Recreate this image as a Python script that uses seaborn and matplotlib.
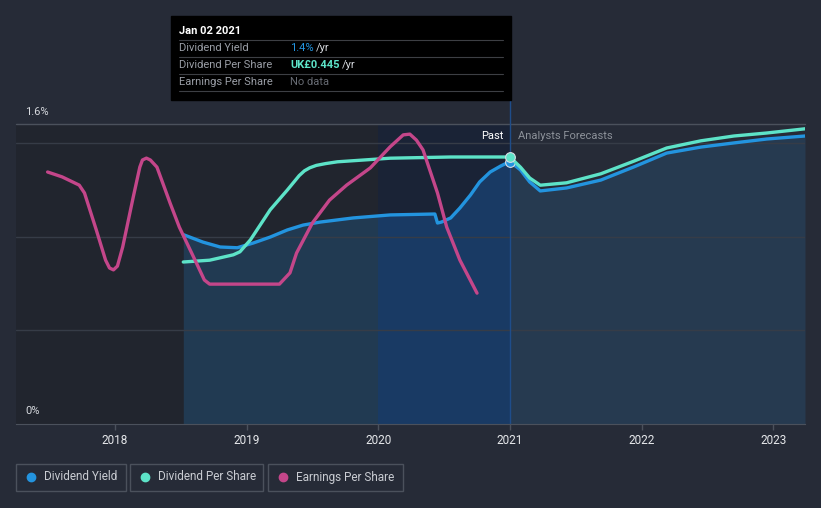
import numpy as np
import matplotlib
matplotlib.use("Agg")
import matplotlib.pyplot as plt
from matplotlib.patches import Rectangle
from matplotlib.lines import Line2D
import seaborn as sns

# ---- data ----
# dividend yield, % (past)
yield_years = [2018.52, 2018.67, 2018.80, 2018.93, 2019.05, 2019.18, 2019.31, 2019.43,
               2019.56, 2019.81, 2020.09, 2020.43, 2020.45, 2020.48, 2020.55, 2020.62,
               2020.70, 2020.77, 2020.85, 2020.93, 2021.00]
yield_pct = [1.01, 0.97, 0.944, 0.94, 0.965, 0.997, 1.035, 1.061,
             1.077, 1.099, 1.115, 1.12, 1.072, 1.077, 1.099, 1.152,
             1.221, 1.291, 1.344, 1.376, 1.40]
# dividend yield, % (analyst forecast)
yield_fc_years = [2021.00, 2021.08, 2021.15, 2021.23, 2021.43, 2021.69, 2021.94,
                  2022.19, 2022.45, 2022.70, 2022.95, 2023.24]
yield_fc_pct = [1.40, 1.355, 1.291, 1.243, 1.259, 1.301, 1.371,
                1.445, 1.477, 1.499, 1.52, 1.536]

# dividend per share, GBP
dps_years = [2018.52, 2018.72, 2018.90, 2018.95, 2019.03, 2019.18, 2019.31, 2019.40,
             2019.44, 2019.48, 2019.53, 2019.60, 2019.69, 2020.09, 2020.55, 2021.00]
dps_gbp = [0.270, 0.273, 0.282, 0.287, 0.307, 0.357, 0.390, 0.414,
           0.422, 0.427, 0.431, 0.434, 0.437, 0.443, 0.445, 0.445]
dps_fc_years = [2021.00, 2021.08, 2021.15, 2021.23, 2021.43, 2021.69, 2021.94,
                2022.19, 2022.45, 2022.70, 2022.95, 2023.24]
dps_fc_gbp = [0.445, 0.428, 0.410, 0.398, 0.402, 0.417, 0.438,
              0.460, 0.472, 0.480, 0.485, 0.492]

# earnings per share, GBP
eps_years = [2017.49, 2017.60, 2017.73, 2017.77, 2017.86, 2017.93, 2017.96, 2017.99,
             2018.02, 2018.06, 2018.14, 2018.19, 2018.21, 2018.24, 2018.27, 2018.32,
             2018.42, 2018.49, 2018.62, 2018.68, 2018.72, 2019.25, 2019.33, 2019.38,
             2019.50, 2019.63, 2019.76, 2019.94, 2020.09, 2020.19, 2020.24, 2020.29,
             2020.34, 2020.45, 2020.52, 2020.62, 2020.75]
eps_gbp = [0.672, 0.659, 0.637, 0.616, 0.517, 0.437, 0.416, 0.411,
           0.421, 0.472, 0.605, 0.685, 0.704, 0.709, 0.704, 0.685,
           0.589, 0.525, 0.429, 0.384, 0.373, 0.373, 0.403, 0.456,
           0.536, 0.597, 0.637, 0.683, 0.739, 0.771, 0.773, 0.757,
           0.731, 0.616, 0.525, 0.437, 0.349]

year_ticks = [2018, 2019, 2020, 2021, 2022, 2023]

# ---- style ----
BG = "#262b37"
PAST_BG = "#21252e"
BLUE = "#2394df"
TEAL = "#5de3c8"
PINK = "#c4468a"
GRID = "#363c47"
AXIS = "#4b515c"

sns.set_style("dark", {"axes.facecolor": PAST_BG, "figure.facecolor": BG})
plt.rcParams["font.family"] = ["Roboto", "DejaVu Sans"]

W, H = 821, 508
fig = plt.figure(figsize=(W / 100, H / 100), dpi=100)
ax = fig.add_axes([16 / W, 1 - 424 / H, (805 - 16) / W, 300 / H])


def px(x, y):
    return x / W, 1 - y / H


x0, x1 = 2017.25, 2023.24
ax.set_xlim(x0, x1)
ax.set_ylim(0, 1.6)

# forecast background and hovered-year highlight
ax.axvspan(2021, x1, color=BG, lw=0, zorder=0)
ax.axvspan(2020, 2021, color="#1a2336", lw=0, zorder=0)

# area under dividend yield
ax.fill_between(yield_years, yield_pct, color="#213a52", lw=0, zorder=1)
fill_hi = ax.fill_between(yield_years, yield_pct, color="#193a64", lw=0, zorder=1)
fill_hi.set_clip_path(Rectangle((2020, 0), 1, 1.6, transform=ax.transData))
ax.fill_between(yield_fc_years, yield_fc_pct, color="#263a50", lw=0, zorder=1)

for g in [0.5, 1.0, 1.5]:
    ax.axhline(g, color=GRID, lw=1, zorder=1.5)
ax.axhline(1.6, color=AXIS, lw=1, zorder=1.5, clip_on=False)

ax.axvline(2021, ymin=0, ymax=1.08, color="#1f4d8a", lw=1, zorder=1.6, clip_on=False)

sns.lineplot(x=yield_years, y=yield_pct, ax=ax, color=BLUE, lw=2.4, zorder=3)
sns.lineplot(x=yield_fc_years, y=yield_fc_pct, ax=ax, color=BLUE, lw=2.4, zorder=3)
ax.plot([2021.0], [1.40], "o", ms=7, color=BLUE, mec="#d8dde5", mew=0.8, zorder=6)

ax_dps = ax.twinx()
ax_dps.set_ylim(0, 0.5)
sns.lineplot(x=dps_years, y=dps_gbp, ax=ax_dps, color=TEAL, lw=2.4, zorder=3)
sns.lineplot(x=dps_fc_years, y=dps_fc_gbp, ax=ax_dps, color=TEAL, lw=2.4, zorder=3)
ax_dps.plot([2021.0], [0.445], "o", ms=7, color=TEAL, mec="#d8dde5", mew=0.8, zorder=6)

ax_eps = ax.twinx()
ax_eps.set_ylim(0, 0.8)
sns.lineplot(x=eps_years, y=eps_gbp, ax=ax_eps, color=PINK, lw=2.4, zorder=3)

for a in [ax, ax_dps, ax_eps]:
    a.set_xlim(x0, x1)
    a.set_ylabel("")
    a.set_yticks([])
    for s in ["top", "right", "left", "bottom"]:
        a.spines[s].set_visible(False)
    a.grid(False)
ax_dps.patch.set_visible(False)
ax_eps.patch.set_visible(False)

ax.spines["bottom"].set_visible(True)
ax.spines["bottom"].set_color(AXIS)
ax.set_xticks(year_ticks)
ax.set_xticklabels([str(y) for y in year_ticks])
ax.tick_params(axis="x", colors=AXIS, labelcolor="#e6e8eb", labelsize=8.5,
               length=4, width=1, direction="out", pad=3, bottom=True, labelbottom=True)
for a in [ax_dps, ax_eps]:
    a.tick_params(axis="x", bottom=False, labelbottom=False)

# y labels
fig.text(*px(25, 112), "1.6%", color="#d6d9de", fontsize=8, va="center")
fig.text(*px(25, 411), "0%", color="#d6d9de", fontsize=8, va="center")

fig.text(*px(503, 136), "Past", color="#ffffff", fontsize=8, ha="right", va="center")
fig.text(*px(518, 136), "Analysts Forecasts", color="#8c9199", fontsize=8,
         ha="left", va="center")

# tooltip
fig.add_artist(Rectangle(px(171, 100), 340 / W, 84 / H, transform=fig.transFigure,
                         color="#000000", zorder=10))
fig.text(*px(179, 31), "Jan 02 2021", color="white", fontsize=8, weight="bold",
         va="center", zorder=11)
for yy in [40, 57, 74, 91]:
    fig.add_artist(Line2D([179 / W, 503 / W], [1 - yy / H] * 2, color="#3d3f44",
                          lw=0.8, transform=fig.transFigure, zorder=11))
rows = [("Dividend Yield", 48), ("Dividend Per Share", 65), ("Earnings Per Share", 82)]
for lab, yy in rows:
    fig.text(*px(179, yy), lab, color="#9a9ea6", fontsize=8, va="center", zorder=11)
fig.text(*px(290, 48), "1.4%", color=BLUE, fontsize=8, va="center", zorder=11)
fig.text(*px(316, 48), "/yr", color="#d6d9de", fontsize=8, va="center", zorder=11)
fig.text(*px(290, 65), "UK£0.445", color=TEAL, fontsize=8, weight="bold",
         va="center", zorder=11)
fig.text(*px(342, 65), "/yr", color="#d6d9de", fontsize=8, va="center", zorder=11)
fig.text(*px(290, 82), "No data", color="#676b73", fontsize=8, va="center", zorder=11)

# legend
legend_items = [("Dividend Yield", BLUE, 16, 126), ("Dividend Per Share", TEAL, 130, 263),
                ("Earnings Per Share", PINK, 268, 403)]
for lab, col, xa, xb in legend_items:
    fig.add_artist(Rectangle(px(xa, 491), (xb - xa) / W, 27 / H, transform=fig.transFigure,
                             facecolor="none", edgecolor=AXIS, lw=1))
    fig.add_artist(Line2D([(xa + 15) / W], [1 - 477 / H], marker="o", ms=6, color=col,
                          transform=fig.transFigure))
    fig.text(*px(xa + 28, 477), lab, color="#c9ccd2", fontsize=8.5, va="center")

fig.savefig("out.png", dpi=100, facecolor=BG)
